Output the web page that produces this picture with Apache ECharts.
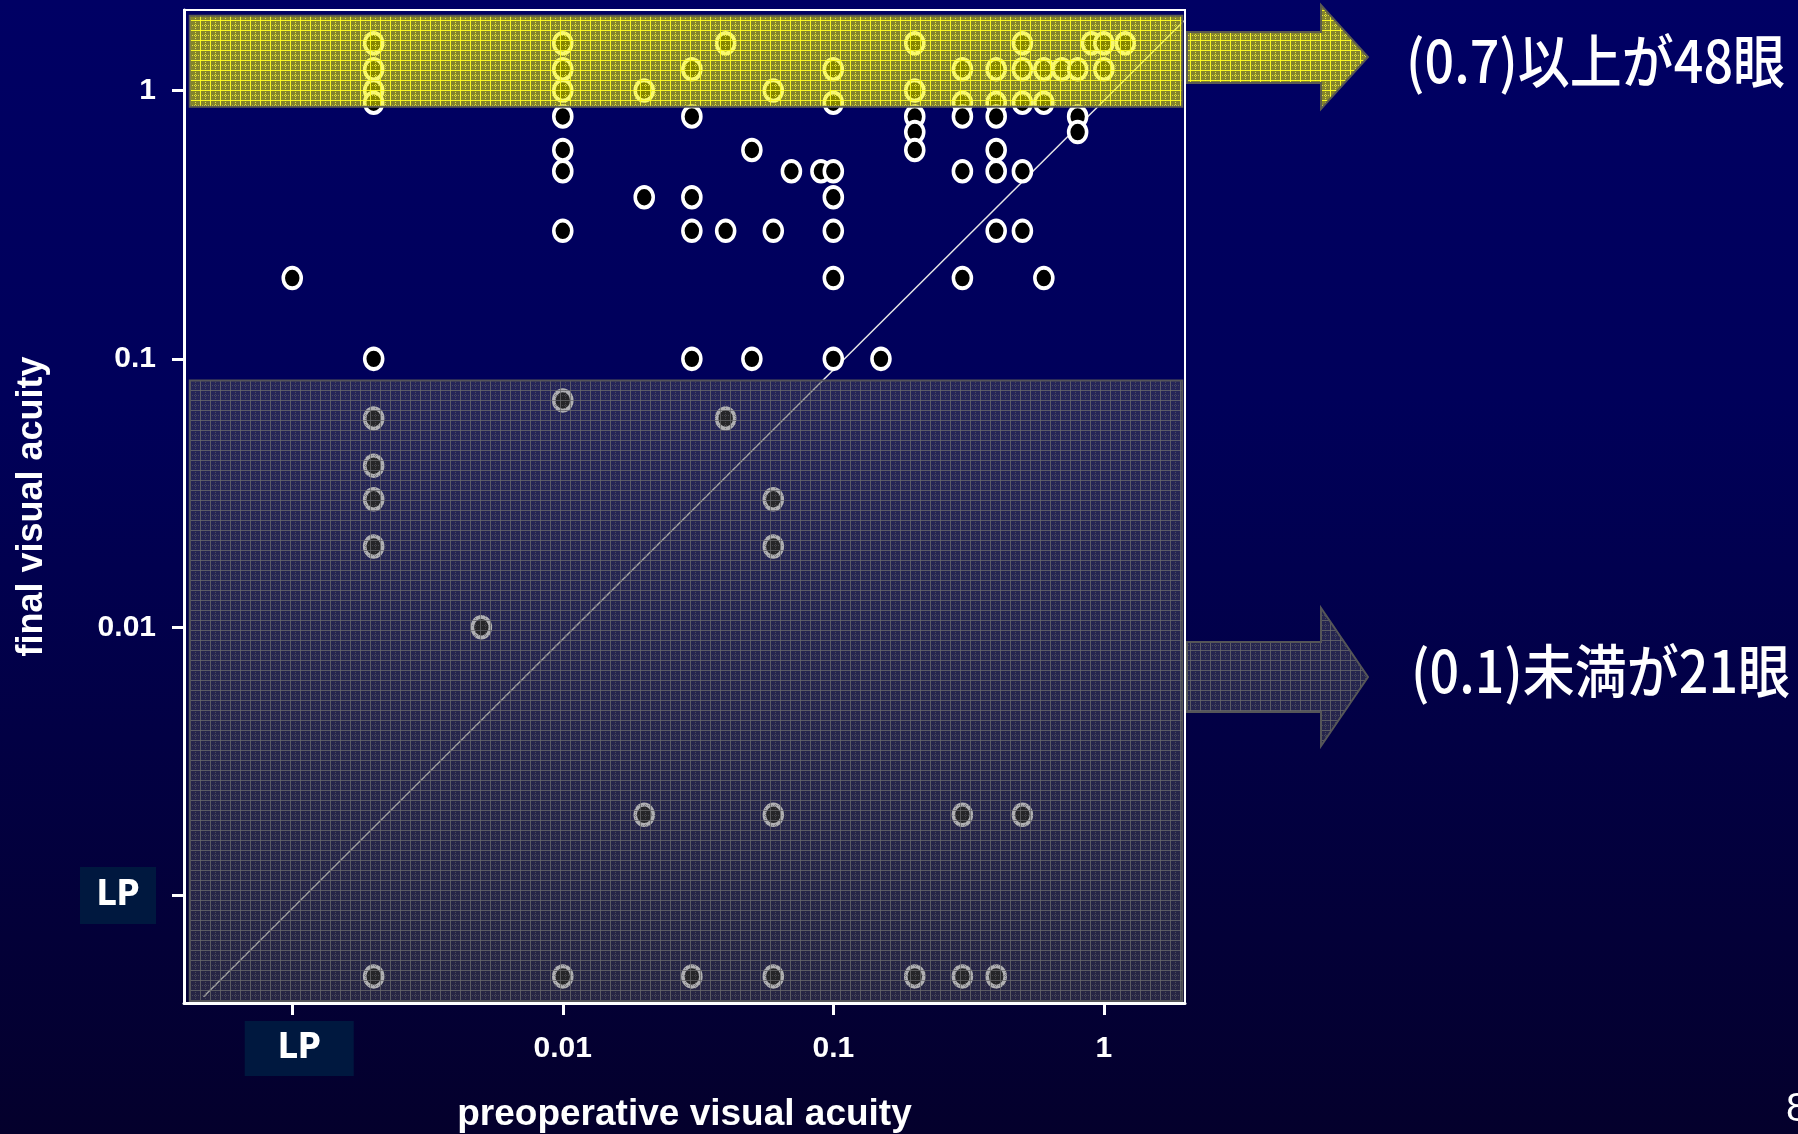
<!DOCTYPE html>
<html>
<head>
<meta charset="utf-8">
<script src="https://cdn.jsdelivr.net/npm/echarts@6/dist/echarts.min.js"></script>
<style>
html,body{margin:0;padding:0;width:1798px;height:1134px;overflow:hidden;background:linear-gradient(180deg,#000064 0%,#00005a 35%,#020044 65%,#04002c 100%);}
#c{width:1798px;height:1134px;}
</style>
</head>
<body>
<div id="c"></div>
<script>
// ---- data (visual acuity, decimal; LP plotted at 0.001, row below LP at 0.0005) ----
const tickValues = [0.001, 0.01, 0.1, 1];
const tickLabels = ['LP', '0.01', '0.1', '1'];
const xTitle = 'preoperative visual acuity';
const yTitle = 'final visual acuity';
const note1 = '(0.7)以上が48眼';
const note2 = '(0.1)未満が21眼';
const pageNo = '8';

const preop = [
  0.001,
  0.002,0.002,0.002,0.002,0.002,0.002,0.002,0.002,0.002,0.002,
  0.005,
  0.01,0.01,0.01,0.01,0.01,0.01,0.01,0.01,0.01,
  0.02,0.02,0.02,
  0.03,0.03,0.03,0.03,0.03,0.03,
  0.04,0.04,0.04,
  0.05,0.05,
  0.06,0.06,0.06,0.06,0.06,0.06,
  0.07,
  0.09,
  0.1,0.1,0.1,0.1,0.1,0.1,0.1,
  0.15,
  0.2,0.2,0.2,0.2,0.2,0.2,
  0.3,0.3,0.3,0.3,0.3,0.3,0.3,
  0.4,0.4,0.4,0.4,0.4,0.4,0.4,
  0.5,0.5,0.5,0.5,0.5,0.5,
  0.6,0.6,0.6,
  0.7,
  0.8,0.8,0.8,
  0.9,
  1.0,1.0,
  1.2
];
const finalVA = [
  0.2,
  1.5,1.2,1.0,0.9,0.1,0.06,0.04,0.03,0.02,0.0005,
  0.01,
  1.5,1.2,1.0,0.8,0.6,0.5,0.3,0.07,0.0005,
  1.0,0.4,0.002,
  1.2,0.8,0.4,0.3,0.1,0.0005,
  1.5,0.3,0.06,
  0.6,0.1,
  1.0,0.3,0.03,0.02,0.002,0.0005,
  0.5,
  0.5,
  1.2,0.9,0.5,0.4,0.3,0.2,0.1,
  0.1,
  1.5,1.0,0.8,0.7,0.6,0.0005,
  1.2,0.9,0.8,0.5,0.2,0.002,0.0005,
  1.2,0.9,0.8,0.6,0.5,0.3,0.0005,
  1.5,1.2,0.9,0.5,0.3,0.002,
  1.2,0.9,0.2,
  1.2,
  1.2,0.8,0.7,
  1.5,
  1.5,1.2,
  1.5
];
// reference line (roughly equal pre/post acuity)
const diagX = [0.00047, 1.98];
const diagY = [0.00042, 1.82];
// highlighted bands
const axisRange = [0.000398, 1.995];
const bandX = [0.000418, 1.95];
const highBand = [0.87, 1.9];
const lowBand = [0.000405, 0.083];

// ---- textures ----
function makePattern(base, line, dot) {
  const c = document.createElement('canvas');
  c.width = 10; c.height = 10;
  const g = c.getContext('2d');
  g.fillStyle = base; g.fillRect(0, 0, 10, 10);
  g.fillStyle = line; g.fillRect(0, 0, 10, 1); g.fillRect(0, 0, 1, 10);
  g.fillStyle = dot;
  for (let i = 0; i < 10; i += 2) { g.fillRect(i, 5, 1, 1); g.fillRect(5, i, 1, 1); }
  return {image: c, repeat: 'repeat'};
}
const yellowPat = makePattern('rgba(240,240,0,0.55)', 'rgba(255,255,30,0.92)', 'rgba(255,255,60,0.78)');
const grayPat = makePattern('rgba(80,80,88,0.46)', 'rgba(108,108,108,0.75)', 'rgba(96,96,100,0.6)');

const labelFont = "'Liberation Sans', Arial, sans-serif";
const narrowFont = "'Liberation Sans Narrow', 'Arial Narrow', 'DejaVu Sans Condensed', sans-serif";
const cjkFont = "'Noto Sans CJK JP', 'Noto Sans', sans-serif";

function fmtX(v) {
  const i = tickValues.findIndex(t => Math.abs(Math.log10(t) - Math.log10(v)) < 1e-6);
  if (i < 0) return '';
  return tickLabels[i] === 'LP' ? '{sp| }{lp|LP}' : '{n|' + tickLabels[i] + '}';
}
function fmtY(v) {
  const i = tickValues.findIndex(t => Math.abs(Math.log10(t) - Math.log10(v)) < 1e-6);
  if (i < 0) return '';
  return tickLabels[i] === 'LP' ? '{lp|LP}' : '{n|' + tickLabels[i] + '}';
}

const chart = echarts.init(document.getElementById('c'), null, {renderer: 'canvas'});
const option = {
  backgroundColor: 'transparent',
  animation: false,
  grid: {left: 184, top: 10, width: 1001, height: 993, show: true, borderColor: '#ffffff', borderWidth: 2, backgroundColor: 'transparent', outerBoundsMode: 'none', containLabel: false},
  xAxis: {
    type: 'log', logBase: 10, min: axisRange[0], max: axisRange[1],
    name: xTitle, nameLocation: 'middle', nameGap: 93,
    nameTextStyle: {color: '#fff', fontSize: 37, fontWeight: 'bold', fontFamily: labelFont},
    axisLine: {lineStyle: {color: '#fff', width: 3}},
    axisTick: {customValues: tickValues, length: 12, lineStyle: {color: '#fff', width: 3}},
    axisLabel: {
      customValues: tickValues, formatter: fmtX, margin: 18, color: '#fff',
      rich: {
        n: {color: '#fff', fontSize: 30, fontWeight: 'bold', fontFamily: labelFont, height: 55, lineHeight: 55},
        sp: {width: 14, height: 55, fontSize: 10, color: 'transparent'},
        lp: {color: '#fff', fontSize: 35, fontWeight: 'bold', fontFamily: narrowFont, width: 109, height: 55, lineHeight: 55, align: 'center', backgroundColor: '#00183f'}
      }
    },
    splitLine: {show: false}, minorTick: {show: false}
  },
  yAxis: {
    type: 'log', logBase: 10, min: axisRange[0], max: axisRange[1],
    name: yTitle, nameLocation: 'middle', nameGap: 134,
    nameTextStyle: {color: '#fff', fontSize: 36, fontWeight: 'bold', fontFamily: labelFont},
    axisLine: {lineStyle: {color: '#fff', width: 3}},
    axisTick: {customValues: tickValues, length: 12, lineStyle: {color: '#fff', width: 3}},
    axisLabel: {
      customValues: tickValues, formatter: fmtY, margin: 28, color: '#fff',
      rich: {
        n: {color: '#fff', fontSize: 30, fontWeight: 'bold', fontFamily: labelFont},
        lp: {color: '#fff', fontSize: 35, fontWeight: 'bold', fontFamily: narrowFont, width: 76, height: 57, lineHeight: 57, align: 'center', backgroundColor: '#00183f'}
      }
    },
    splitLine: {show: false}, minorTick: {show: false}
  },
  series: [
    {
      type: 'line', z: 2, silent: true, symbol: 'none',
      data: [[diagX[0], diagY[0]], [diagX[1], diagY[1]]],
      lineStyle: {color: '#e6e6e6', width: 1.5}
    },
    {
      type: 'scatter', z: 3, silent: true,
      data: preop.map((x, i) => [x, finalVA[i]]),
      symbol: 'circle', symbolSize: [18, 20.5],
      itemStyle: {color: '#000000', borderColor: '#ffffff', borderWidth: 3.8, opacity: 1}
    },
    {
      type: 'scatter', z: 6, silent: true, data: [],
      markArea: {
        z: 6, silent: true,
        label: {show: false},
        emphasis: {disabled: true},
        data: [
          [{xAxis: bandX[0], yAxis: highBand[0], itemStyle: {color: yellowPat, borderColor: '#5a5a50', borderWidth: 2}}, {xAxis: bandX[1], yAxis: highBand[1]}],
          [{xAxis: bandX[0], yAxis: lowBand[0], itemStyle: {color: grayPat, borderColor: '#555558', borderWidth: 2}}, {xAxis: bandX[1], yAxis: lowBand[1]}]
        ]
      }
    }
  ],
  graphic: [
    {type: 'polygon', z: 10, silent: true,
     shape: {points: [[1187,32],[1321,32],[1321,5],[1368,57],[1321,109],[1321,83],[1187,83]]},
     style: {fill: yellowPat, stroke: '#5a5a50', lineWidth: 2}},
    {type: 'polygon', z: 10, silent: true,
     shape: {points: [[1187,642],[1321,642],[1321,608],[1368,677],[1321,746],[1321,712],[1187,712]]},
     style: {fill: grayPat, stroke: '#555558', lineWidth: 2}},
    {type: 'text', z: 10, silent: true, x: 1406, y: 61, scaleY: 1.12,
     style: {text: note1, fill: '#fff', fontSize: 52, fontWeight: 500, fontFamily: cjkFont, textVerticalAlign: 'middle', verticalAlign: 'middle'}},
    {type: 'text', z: 10, silent: true, x: 1411, y: 671, scaleY: 1.12,
     style: {text: note2, fill: '#fff', fontSize: 52, fontWeight: 500, fontFamily: cjkFont, textVerticalAlign: 'middle', verticalAlign: 'middle'}},
    {type: 'text', z: 10, silent: true, x: 1786, y: 1110,
     style: {text: pageNo, fill: '#fff', fontSize: 40, fontFamily: labelFont, textVerticalAlign: 'middle', verticalAlign: 'middle'}}
  ]
};
chart.setOption(option);
</script>
</body>
</html>
